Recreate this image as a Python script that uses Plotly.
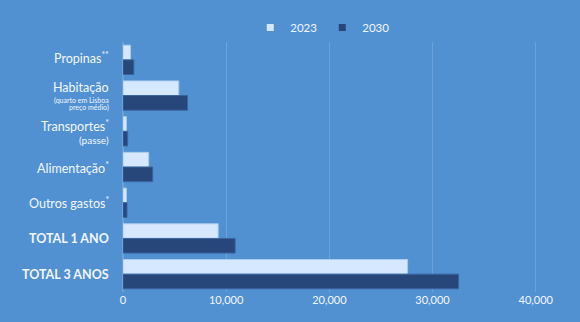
import plotly.graph_objects as go

categories = [
    "Propinas<sup>**</sup>",
    "Habitação",
    "Transportes<sup>*</sup>",
    "Alimentação<sup>*</sup>",
    "Outros gastos<sup>*</sup>",
    "<b>TOTAL 1 ANO</b>",
    "<b>TOTAL 3 ANOS</b>",
]
# secondary label lines: (category index, text, font size, vertical offset in px)
sub_labels = [
    (1, "(quarto em Lisboa", 7, -4.5),
    (1, "preço médio)", 7, -12),
    (2, "(passe)", 10, -8.5),
]
# main label vertical offsets in px (positive = up)
label_shift = [2, 8.5, 6, 0, 0, 0, 0]

values_2023 = [730, 5400, 330, 2490, 330, 9220, 27580]
values_2030 = [1050, 6250, 450, 2880, 390, 10870, 32520]
x_ticks = [0, 10000, 20000, 30000, 40000]
x_tick_labels = ["0", "10,000", "20,000", "30,000", "40,000"]

bg = "#5191d2"
light = "#d6e8ff"
dark = "#27467a"
text_color = "#f2f6fb"
font_family = "Lato, Open Sans, sans-serif"

idx = list(range(len(categories)))

fig = go.Figure()
fig.add_trace(go.Bar(
    y=idx, x=values_2023, name="2023", orientation="h", showlegend=False,
    marker=dict(color=light, line=dict(color="#a9cbf0", width=1)),
))
fig.add_trace(go.Bar(
    y=idx, x=values_2030, name="2030", orientation="h", showlegend=False,
    marker=dict(color=dark, line=dict(color="#3b64a0", width=1)),
))
# legend entries with small square swatches
for name, col in [("2023", light), ("2030", dark)]:
    fig.add_trace(go.Scatter(
        x=[None], y=[None], mode="markers", name=name,
        marker=dict(symbol="square", size=7, color=col),
    ))

annotations = []
for i, lab in enumerate(categories):
    annotations.append(dict(
        xref="paper", yref="y", x=0, y=i, xanchor="right", yanchor="middle",
        xshift=-13, yshift=label_shift[i], text=lab, showarrow=False, borderpad=0,
        font=dict(size=12.5, color=text_color, family=font_family),
    ))
for i, txt, size, dy in sub_labels:
    annotations.append(dict(
        xref="paper", yref="y", x=0, y=i, xanchor="right", yanchor="middle",
        xshift=-13, yshift=dy, text=txt, showarrow=False, borderpad=0,
        font=dict(size=size, color=text_color, family=font_family),
    ))

fig.update_layout(
    width=580, height=322,
    paper_bgcolor=bg, plot_bgcolor=bg,
    margin=dict(l=123, r=3, t=42, b=30),
    barmode="group", bargap=0.18, bargroupgap=0.0,
    font=dict(family=font_family, color=text_color, size=12),
    showlegend=True,
    legend=dict(orientation="h", x=0.44, xanchor="center", y=1.0, yanchor="bottom",
                font=dict(size=11.5), itemwidth=30, bgcolor="rgba(0,0,0,0)"),
    xaxis=dict(range=[0, 44000], tickvals=x_ticks, ticktext=x_tick_labels,
               showgrid=True, gridcolor="rgba(255,255,255,0.16)", gridwidth=1,
               zeroline=True, zerolinecolor="rgba(255,255,255,0.16)",
               showline=False, tickfont=dict(size=11), ticks=""),
    yaxis=dict(range=[len(categories) - 0.5, -0.5], showgrid=False, zeroline=False,
               showticklabels=False, ticks=""),
    annotations=annotations,
)

fig.write_html("out.html")
